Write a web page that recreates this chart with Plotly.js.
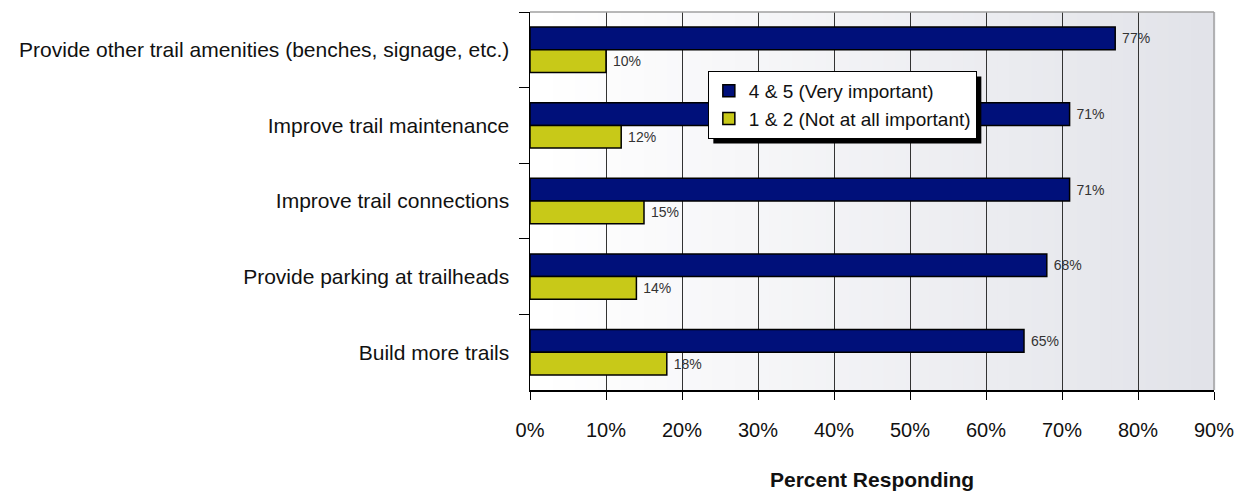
<!DOCTYPE html>
<html>
<head>
<meta charset="utf-8">
<script src="https://cdn.plot.ly/plotly-3.0.1.min.js"></script>
<style>body{margin:0;background:#fff}#chart{width:1245px;height:500px}</style>
</head>
<body>
<div id="chart"></div>
<script>
const categories = [
  "Provide other trail amenities (benches, signage, etc.)",
  "Improve trail maintenance",
  "Improve trail connections",
  "Provide parking at trailheads",
  "Build more trails"
];
const veryImportant = [77, 71, 71, 68, 65];
const notImportant = [10, 12, 15, 14, 18];
const seriesNames = ["4 & 5 (Very important)", "1 & 2 (Not at all important)"];
const tickVals = [0, 10, 20, 30, 40, 50, 60, 70, 80, 90];
const tickText = ["0%", "10%", "20%", "30%", "40%", "50%", "60%", "70%", "80%", "90%"];

const FONT = "Liberation Sans, Arial, sans-serif";

function bar(vals, name, color) {
  return {
    type: "bar", orientation: "h", x: vals, y: categories, name: name,
    marker: {color: color, line: {color: "#000", width: 1.5}},
    text: vals.map(v => "\u00a0" + v + "%"), textposition: "outside", cliponaxis: false,
    textfont: {family: FONT, size: 14, color: "#333"},
    hoverinfo: "none"
  };
}

// background gradient strips (styling only)
const shapes = [];
const N = 60;
for (let i = 0; i < N; i++) {
  const t = i / (N - 1);
  const r = Math.round(255 - t * (255 - 226));
  const g = Math.round(255 - t * (255 - 227));
  const b = Math.round(255 - t * (255 - 233));
  shapes.push({type: "rect", layer: "below", xref: "x domain", yref: "y domain",
    x0: i / N, x1: (i + 1) / N + 0.002, y0: 0, y1: 1,
    fillcolor: `rgb(${r},${g},${b})`, line: {width: 0}});
}
shapes.push({type: "line", xref: "paper", yref: "paper", x0: 0, x1: 1, y0: 1, y1: 1, line: {color: "#a0a0a0", width: 1.5}});
shapes.push({type: "line", xref: "paper", yref: "paper", x0: 1, x1: 1, y0: 0, y1: 1, line: {color: "#a0a0a0", width: 1.5}});

const layout = {
  width: 1245, height: 500,
  margin: {l: 530, r: 31, t: 12, b: 110},
  paper_bgcolor: "#fff", plot_bgcolor: "rgba(0,0,0,0)",
  barmode: "group", bargap: 0.4, bargroupgap: 0,
  showlegend: true,
  legend: {x: 0.260, y: 0.844, xanchor: "left", yanchor: "top",
    bgcolor: "#fff", bordercolor: "#000", borderwidth: 1,
    font: {family: FONT, size: 19, color: "#111"}, traceorder: "normal",
    itemclick: false},
  xaxis: {range: [0, 90], tickvals: tickVals, ticktext: tickText,
    showgrid: true, gridcolor: "#333", gridwidth: 1,
    showline: true, linecolor: "#000", linewidth: 1.5,
    ticks: "outside", ticklen: 8, tickcolor: "#000", ticklabelstandoff: 13,
    tickfont: {family: FONT, size: 20, color: "#111"}, zeroline: false, fixedrange: true},
  yaxis: {type: "category", autorange: "reversed", categoryorder: "array", categoryarray: categories,
    showline: true, linecolor: "#000", linewidth: 1.5, showgrid: false,
    ticks: "outside", ticklen: 10, tickcolor: "#000", tickson: "boundaries",
    ticklabelstandoff: 15,
    tickfont: {family: FONT, size: 21, color: "#111"}, fixedrange: true},
  shapes: shapes,
  annotations: [{text: "<b>Percent Responding</b>", xref: "paper", yref: "paper",
    x: 0.5, y: -0.238, xanchor: "center", yanchor: "middle", showarrow: false,
    font: {family: FONT, size: 21, color: "#111"}}]
};

Plotly.newPlot("chart", [bar(veryImportant, seriesNames[0], "#00107a"), bar(notImportant, seriesNames[1], "#c8c918")], layout, {staticPlot: true}).then(gd => {
  const bg = gd.querySelector(".legend .bg");
  if (!bg) return;
  const lb = bg.getBoundingClientRect();
  const cb = gd.getBoundingClientRect();
  const fl = gd._fullLayout;
  const toPX = px => (px - cb.left - fl.margin.l) / fl._size.w;
  const toPY = py => 1 - (py - cb.top - fl.margin.t) / fl._size.h;
  const sh = gd.layout.shapes.slice();
  sh.push({type: "rect", xref: "paper", yref: "paper", layer: "above",
    x0: toPX(lb.left + 5), x1: toPX(lb.right + 5), y0: toPY(lb.bottom + 5), y1: toPY(lb.top + 5),
    fillcolor: "#000", line: {width: 0}});
  Plotly.relayout(gd, {shapes: sh});
});
</script>
</body>
</html>
